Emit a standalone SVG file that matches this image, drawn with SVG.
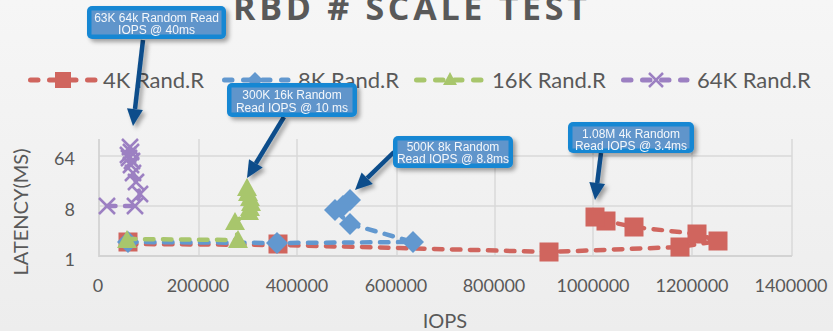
<svg xmlns="http://www.w3.org/2000/svg" width="833" height="331" viewBox="0 0 833 331">
  <defs>
    <linearGradient id="bg" x1="0" y1="0" x2="0" y2="1">
      <stop offset="0" stop-color="#F6F6F6"/>
      <stop offset="1" stop-color="#EDEDED"/>
    </linearGradient>
    <filter id="shadow" x="-20%" y="-20%" width="150%" height="160%">
      <feDropShadow dx="3" dy="3" stdDeviation="2" flood-color="#000" flood-opacity="0.35"/>
    </filter>
    <!-- marker glyphs -->
    <rect id="sq" x="-9.5" y="-9.5" width="19" height="19" fill="#D0655E"/>
    <rect id="sqL" x="-8" y="-8" width="16" height="16" fill="#D0655E"/>
    <polygon id="dia" points="0,-11 11,0 0,11 -11,0" fill="#6298CF"/>
    <polygon id="diaL" points="0,-8 8,0 0,8 -8,0" fill="#6298CF"/>
    <polygon id="tri" points="0,-10 10,8 -10,8" fill="#A8C66C"/>
    <polygon id="triL" points="0,-7 7,6 -7,6" fill="#A8C66C"/>
    <path id="ex" d="M-8,-8 L8,8 M-8,8 L8,-8" stroke="#9C80C2" stroke-width="2.5" fill="none"/>
    <path id="exL" d="M-7,-7 L7,7 M-7,7 L7,-7" stroke="#9C80C2" stroke-width="2.5" fill="none"/>
  </defs>
  <style>
    .txt { font-family: Lato, "Liberation Sans", sans-serif; fill: #595959; }
    .tick { font-size: 18px; }
    .leg { font-size: 22px; }
    .grid { stroke: #D9D9D9; stroke-width: 1.5; fill: none; }
    .axis { stroke: #D3D3D3; stroke-width: 1.8; fill: none; }
    .ser { fill: none; stroke-width: 4.5; stroke-linecap: round; stroke-linejoin: round; stroke-dasharray: 8.5 9.5; }
    .legline { fill: none; stroke-width: 5; stroke-linecap: round; stroke-dasharray: 7.5 11.5; }
    .r { stroke: #D0655E; }
    .b { stroke: #6298CF; }
    .g { stroke: #A8C66C; }
    .p { stroke: #9C80C2; }
    .box { fill: #1787D3; }
    .boxin { fill: #6195CB; }
    .ctext { font-family: "Liberation Sans", Arial, sans-serif; font-size: 12px; fill: #F3F7FB; text-anchor: middle; }
    .arrow { stroke: #0C4E8B; stroke-width: 4.5; fill: none; }
    .head { fill: #0C4E8B; }
  </style>

  <rect x="0" y="0" width="833" height="331" fill="url(#bg)"/>

  <!-- title -->
  <text x="233" y="20" font-family="'Open Sans', 'Liberation Sans', sans-serif" font-weight="700" font-size="34" fill="#595959" textLength="354" lengthAdjust="spacing">RBD # SCALE TEST</text>

  <!-- legend -->
  <g id="legend">
    <line class="legline r" x1="30.5" y1="80" x2="95" y2="80"/>
    <use href="#sqL" x="63" y="80"/>
    <text class="txt leg" x="103" y="88">4K Rand.R</text>
    <line class="legline b" x1="224.5" y1="80" x2="288" y2="80"/>
    <use href="#diaL" x="255" y="80"/>
    <text class="txt leg" x="298" y="88">8K Rand.R</text>
    <line class="legline g" x1="416.5" y1="80" x2="481" y2="80"/>
    <use href="#triL" x="450" y="79"/>
    <text class="txt leg" x="492" y="88">16K Rand.R</text>
    <line class="legline p" x1="623.5" y1="80" x2="687" y2="80"/>
    <use href="#exL" x="656" y="80"/>
    <text class="txt leg" x="697" y="88">64K Rand.R</text>
  </g>

  <!-- plot grid -->
  <g id="grid">
    <path class="grid" d="M199,139V256 M297,139V256 M397,139V256 M495,139V256 M593,139V256 M692,139V256 M792,139V256"/>
    <path class="grid" d="M99,156H792 M99,206H792"/>
    <path class="axis" d="M99,139V256H792"/>
  </g>

  <!-- axis labels -->
  <g id="y-axis">
    <text class="txt tick" x="75" y="165" text-anchor="end">64</text>
    <text class="txt tick" x="75" y="216" text-anchor="end">8</text>
    <text class="txt tick" x="75" y="266" text-anchor="end">1</text>
    <text class="txt" font-size="20" transform="translate(28,212) rotate(-90)" text-anchor="middle">LATENCY(MS)</text>
  </g>
  <g id="x-axis" text-anchor="middle">
    <text class="txt tick" x="98" y="292">0</text>
    <text class="txt tick" x="198" y="292">200000</text>
    <text class="txt tick" x="297" y="292">400000</text>
    <text class="txt tick" x="396" y="292">600000</text>
    <text class="txt tick" x="494" y="292">800000</text>
    <text class="txt tick" x="593" y="292">1000000</text>
    <text class="txt tick" x="692" y="292">1200000</text>
    <text class="txt tick" x="791" y="292">1400000</text>
    <text class="txt" font-size="20" x="445" y="328">IOPS</text>
  </g>

  <!-- data series -->
  <g id="series-4k">
    <polyline class="ser r" points="128,244 278,245 400,248 549,252 680,247 718,241 697,234 634,227 606,221 595,217"/>
    <use href="#sq" x="128" y="242"/>
    <use href="#sq" x="278" y="244"/>
    <use href="#sq" x="549" y="252"/>
    <use href="#sq" x="680" y="247"/>
    <use href="#sq" x="697" y="234"/>
    <use href="#sq" x="718" y="241"/>
    <use href="#sq" x="634" y="227"/>
    <use href="#sq" x="606" y="221"/>
    <use href="#sq" x="595" y="217"/>
  </g>
  <g id="series-8k">
    <polyline class="ser b" points="128,242 277,243 413,242 350,224 335,210 343,206 350,200"/>
    <use href="#dia" x="128" y="242"/>
    <use href="#dia" x="277" y="243"/>
    <use href="#dia" x="413" y="242"/>
    <use href="#dia" x="350" y="224"/>
    <use href="#dia" x="335" y="210"/>
    <use href="#dia" x="343" y="206"/>
    <use href="#dia" x="350" y="200"/>
  </g>
  <g id="series-16k">
    <polyline class="ser g" points="127,239 238,240 235,222 249,212 250,208 251,203 250,198 248,193 247,188"/>
    <use href="#tri" x="127" y="240"/>
    <use href="#tri" x="238" y="240"/>
    <use href="#tri" x="235" y="222"/>
    <use href="#tri" x="249" y="212"/>
    <use href="#tri" x="250" y="208"/>
    <use href="#tri" x="251" y="203"/>
    <use href="#tri" x="250" y="198"/>
    <use href="#tri" x="248" y="193"/>
    <use href="#tri" x="247" y="188"/>
  </g>
  <g id="series-64k">
    <polyline class="ser p" points="107,206 135,206 140,194 136,182 133,173 131,165 129,158 131,152 130,147 128,155 132,161"/>
    <use href="#ex" x="107" y="206"/>
    <use href="#ex" x="135" y="206"/>
    <use href="#ex" x="140" y="194"/>
    <use href="#ex" x="136" y="182"/>
    <use href="#ex" x="133" y="173"/>
    <use href="#ex" x="131" y="165"/>
    <use href="#ex" x="129" y="158"/>
    <use href="#ex" x="131" y="152"/>
    <use href="#ex" x="130" y="147"/>
    <use href="#ex" x="128" y="155"/>
    <use href="#ex" x="132" y="161"/>
  </g>

  <!-- callout connectors -->
  <g id="connectors" filter="url(#shadow)">
    <line class="arrow" x1="143" y1="40" x2="135" y2="109"/>
    <polygon class="head" points="133,126 142.9,110 127,108.2"/>
    <line class="arrow" x1="284" y1="117" x2="255.8" y2="163.5"/>
    <polygon class="head" points="247,178 262.7,167.6 249,159.3"/>
    <line class="arrow" x1="394" y1="152" x2="367.2" y2="178.2"/>
    <polygon class="head" points="355,190 372.8,183.9 361.6,172.5"/>
    <line class="arrow" x1="601" y1="153" x2="597.2" y2="183.1"/>
    <polygon class="head" points="595,200 605.1,184.1 589.3,182.1"/>
  </g>

  <!-- callouts -->
  <g id="callout-64k" filter="url(#shadow)">
    <rect class="box" x="87" y="6" width="139" height="33" rx="5"/>
    <rect class="boxin" x="91.5" y="10.5" width="130" height="24"/>
    <text class="ctext" x="156.5" y="21.5">63K 64k Random Read</text>
    <text class="ctext" x="156.5" y="34">IOPS @ 40ms</text>
  </g>
  <g id="callout-16k" filter="url(#shadow)">
    <rect class="box" x="227" y="83" width="130" height="34" rx="5"/>
    <rect class="boxin" x="231.5" y="87.5" width="121" height="25"/>
    <text class="ctext" x="292" y="98.5">300K 16k Random</text>
    <text class="ctext" x="292" y="111.5">Read IOPS @ 10 ms</text>
  </g>
  <g id="callout-8k" filter="url(#shadow)">
    <rect class="box" x="393" y="136" width="120" height="32" rx="5"/>
    <rect class="boxin" x="397.5" y="140.5" width="111" height="23"/>
    <text class="ctext" x="453" y="150.5">500K 8k Random</text>
    <text class="ctext" x="453" y="163">Read IOPS @ 8.8ms</text>
  </g>
  <g id="callout-4k" filter="url(#shadow)">
    <rect class="box" x="568" y="122" width="126" height="31" rx="5"/>
    <rect class="boxin" x="572.5" y="126.5" width="117" height="22"/>
    <text class="ctext" x="631" y="137.5">1.08M 4k Random</text>
    <text class="ctext" x="631" y="149.5">Read IOPS @ 3.4ms</text>
  </g>
</svg>
